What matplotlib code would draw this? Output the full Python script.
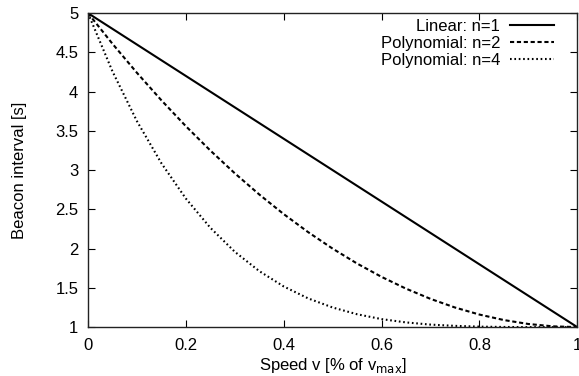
import matplotlib
matplotlib.use('Agg')
import matplotlib.pyplot as plt

# Beacon interval vs. speed, sampled every 5% of v_max
speed = [0.00, 0.05, 0.10, 0.15, 0.20, 0.25, 0.30, 0.35, 0.40, 0.45, 0.50,
         0.55, 0.60, 0.65, 0.70, 0.75, 0.80, 0.85, 0.90, 0.95, 1.00]
linear_n1 = [5.00, 4.80, 4.60, 4.40, 4.20, 4.00, 3.80, 3.60, 3.40, 3.20, 3.00,
             2.80, 2.60, 2.40, 2.20, 2.00, 1.80, 1.60, 1.40, 1.20, 1.00]
poly_n2 = [5.00, 4.61, 4.24, 3.89, 3.56, 3.25, 2.96, 2.69, 2.44, 2.21, 2.00,
           1.81, 1.64, 1.49, 1.36, 1.25, 1.16, 1.09, 1.04, 1.01, 1.00]
poly_n4 = [5.000, 4.258, 3.624, 3.088, 2.638, 2.266, 1.960, 1.714, 1.518, 1.366,
           1.250, 1.164, 1.102, 1.060, 1.032, 1.016, 1.006, 1.002, 1.000, 1.000,
           1.000]

x_ticks = [0, 0.2, 0.4, 0.6, 0.8, 1.0]
x_labels = ["0", "0.2", "0.4", "0.6", "0.8", "1"]
y_ticks = [1, 1.5, 2, 2.5, 3, 3.5, 4, 4.5, 5]
y_labels = ["1", "1.5", "2", "2.5", "3", "3.5", "4", "4.5", "5"]

plt.rcParams['font.family'] = ['Liberation Sans', 'DejaVu Sans']

fig = plt.figure(figsize=(5.79, 3.76), dpi=100)
ax = fig.add_axes([0.152, 0.130, 0.845, 0.835])

ax.plot(speed, linear_n1, color='black', lw=1.5, linestyle='-',
        label='Linear: n=1')
ax.plot(speed, poly_n2, color='black', lw=1.5, linestyle=(0, (2.0, 1.3)),
        label='Polynomial: n=2')
ax.plot(speed, poly_n4, color='black', lw=1.5, linestyle=(0, (0.8, 1.3)),
        label='Polynomial: n=4')

ax.set_xlim(0, 1)
ax.set_ylim(1, 5)
ax.set_xticks(x_ticks)
ax.set_xticklabels(x_labels)
ax.set_yticks(y_ticks)
ax.set_yticklabels(y_labels)
ax.tick_params(direction='in', length=5, width=0.8, top=True, right=True,
               labelsize=12, colors='black')
ax.tick_params(axis='x', pad=8)
ax.tick_params(axis='y', pad=7)
for s in ax.spines.values():
    s.set_linewidth(1.0)
    s.set_color('#222222')

ax.set_xlabel("Speed v [% of v$_{\\mathrm{max}}$]", fontsize=12, labelpad=2)
ax.set_ylabel("Beacon interval [s]", fontsize=12, labelpad=20)

ax.legend(loc='upper right', bbox_to_anchor=(0.965, 1.0), frameon=False,
          markerfirst=False, fontsize=12, handlelength=2.65,
          handletextpad=0.6, labelspacing=0.12, borderaxespad=0.0,
          borderpad=0.35)

fig.savefig('out.png', dpi=100)
